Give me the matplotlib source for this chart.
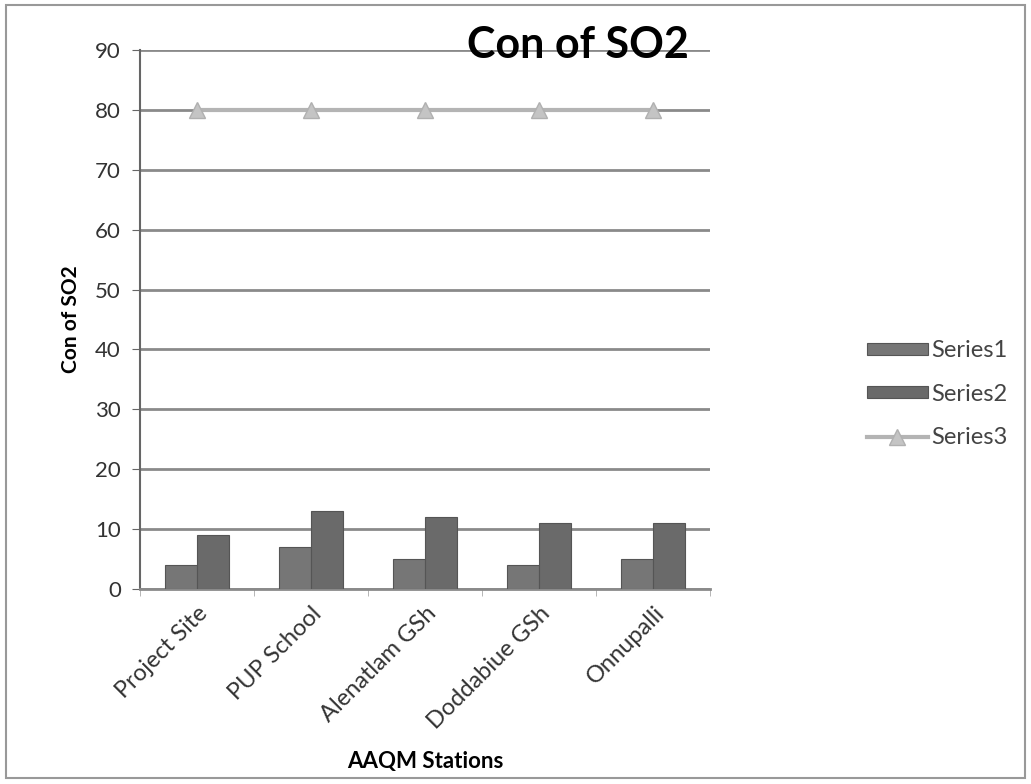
import matplotlib.pyplot as plt
from matplotlib.patches import Rectangle
import numpy as np

stations = ['Project Site', 'PUP School', 'Alenatlam GSh', 'Doddabiue GSh', 'Onnupalli']
series1 = [4, 7, 5, 4, 5]
series2 = [9, 13, 12, 11, 11]
series3 = [80, 80, 80, 80, 80]

plt.rcParams['font.family'] = ['Lato', 'DejaVu Sans']

fig = plt.figure(figsize=(10.31, 7.84), dpi=100)
ax = fig.add_axes([0.136, 0.249, 0.553, 0.687])

x = np.arange(len(stations))
w = 0.28
b1 = ax.bar(x - w / 2, series1, w, color='#767676', edgecolor='#555555', linewidth=0.8, label='Series1', zorder=3)
b2 = ax.bar(x + w / 2, series2, w, color='#6a6a6a', edgecolor='#555555', linewidth=0.8, label='Series2', zorder=3)
l3, = ax.plot(x, series3, color='#b4b4b4', lw=3, marker='^', markersize=11,
              markerfacecolor='#c4c4c4', markeredgecolor='#b0b0b0', label='Series3', zorder=4)

ax.set_xlim(-0.5, len(stations) - 0.5)
ax.set_ylim(0, 90)
ax.set_yticks(range(0, 91, 10))
ax.yaxis.grid(True, color='#8a8a8a', lw=2)
ax.set_axisbelow(True)

for s in ['top', 'right']:
    ax.spines[s].set_visible(False)
ax.spines['left'].set_color('#666666')
ax.spines['left'].set_linewidth(1.5)
ax.spines['bottom'].set_color('#8a8a8a')
ax.spines['bottom'].set_linewidth(2)

# category boundaries as minor ticks, labels on the major ones
ax.set_xticks(x)
ax.set_xticklabels(stations, rotation=45, ha='right', rotation_mode='anchor',
                   fontsize=17, color='#333333')
ax.set_xticks(np.arange(-0.5, len(stations)), minor=True)
ax.tick_params(axis='x', which='major', length=0, pad=10)
ax.tick_params(axis='x', which='minor', length=5, color='#aaaaaa')
ax.tick_params(axis='y', length=6, color='#666666', labelsize=16, labelcolor='#333333', pad=8)

ax.set_ylabel('Con of SO2', fontsize=15, fontweight='bold', labelpad=10)
ax.set_xlabel('AAQM Stations', fontsize=16, fontweight='bold', labelpad=13)
fig.text(0.561, 0.943, 'Con of SO2', fontsize=31, fontweight='bold', ha='center', va='center')

fig.legend([b1, b2, l3], ['Series1', 'Series2', 'Series3'],
           loc='center left', bbox_to_anchor=(0.82, 0.497), frameon=False, fontsize=17,
           handlelength=2.6, handleheight=0.4, labelspacing=0.95, handletextpad=0.15,
           labelcolor='#444444')

fig.patches.append(Rectangle((0.006, 0.008), 0.988, 0.985, transform=fig.transFigure,
                             fill=False, edgecolor='#999999', lw=1.5))

fig.savefig('out.png', dpi=100)
